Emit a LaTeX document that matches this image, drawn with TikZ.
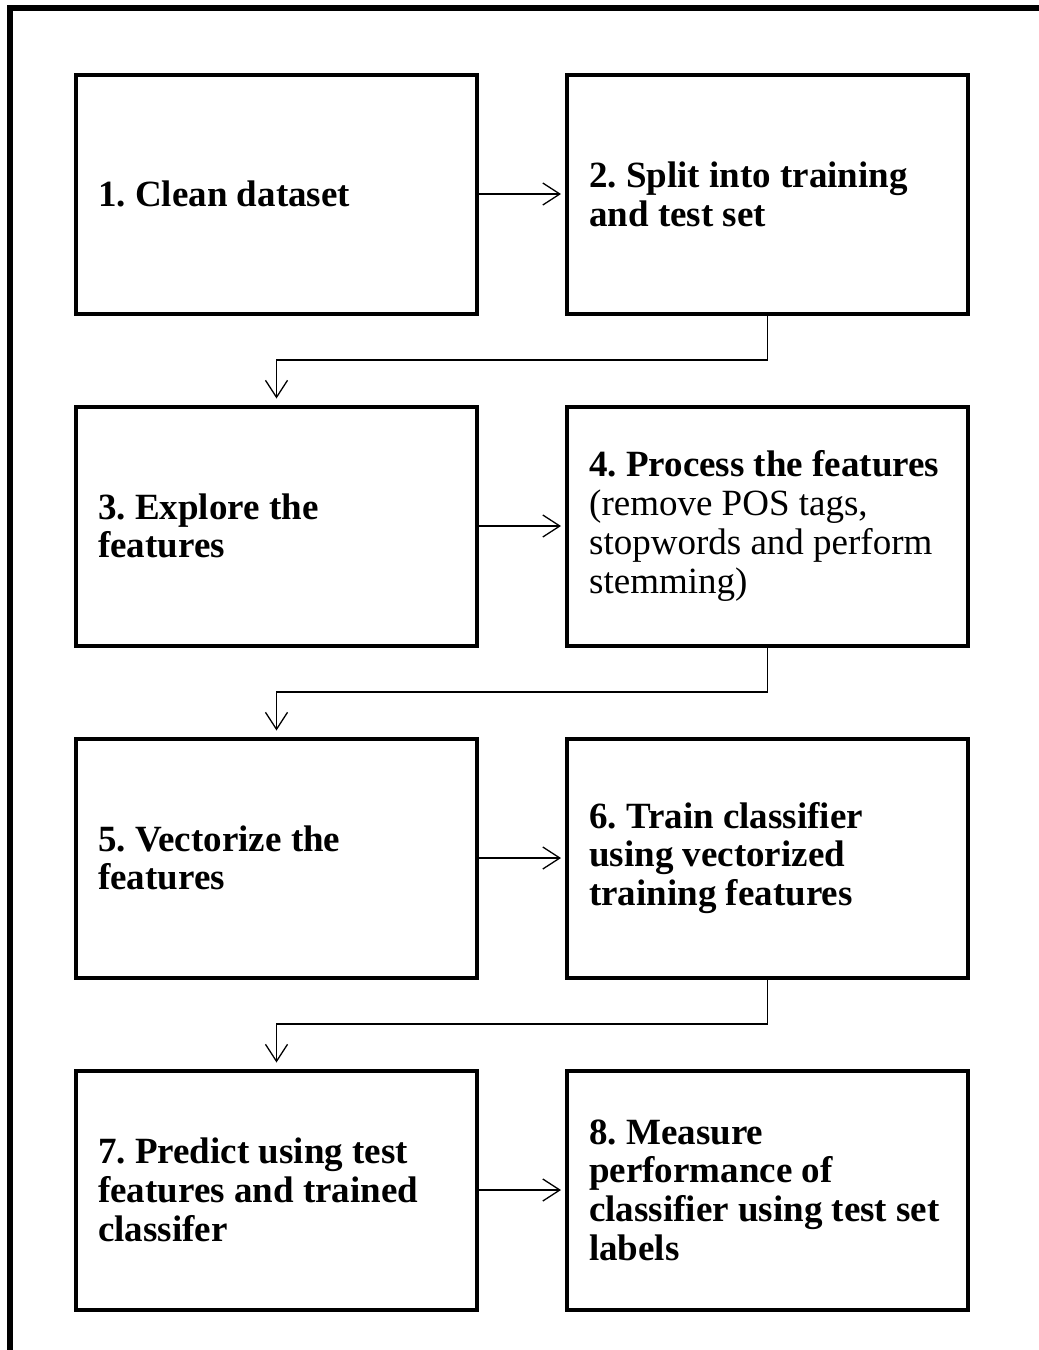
\documentclass[tikz,border=0pt]{standalone}
\usepackage{fontspec}
\setmainfont{Liberation Serif}
\usetikzlibrary{arrows.meta}
\frenchspacing
\newcommand\myboxfont{\fontsize{37}{38.7}\selectfont\bfseries\frenchspacing}
\begin{document}
\begin{tikzpicture}[x=1pt,y=-1pt,
  stepbox/.style={draw, line width=4pt, minimum width=401pt, minimum height=239pt,
    inner sep=0pt, outer sep=0pt},
  steptext/.style={anchor=west, align=left, inner sep=0pt, font=\myboxfont},
  conn/.style={line width=1.3pt, -{Straight Barb[length=17pt,width=22pt,line width=1.3pt]}},
  frame/.style={line width=6pt, line join=miter}]
\useasboundingbox (0,0) rectangle (1039,1350);
\draw[frame] (10,1350) -- (10,8) -- (1039,8);
\node[stepbox] (b1) at (276.5,194) {};
\node[stepbox] (b2) at (767.5,194) {};
\node[stepbox] (b3) at (276.5,526) {};
\node[stepbox] (b4) at (767.5,526) {};
\node[stepbox] (b5) at (276.5,858) {};
\node[stepbox] (b6) at (767.5,858) {};
\node[stepbox] (b7) at (276.5,1190) {};
\node[stepbox] (b8) at (767.5,1190) {};
\node[steptext] (t1) at ([xshift=22pt]b1.west) {1. Clean dataset};
\node[steptext] (t2) at ([xshift=22pt]b2.west) {2. Split into training\\and test set};
\node[steptext] (t3) at ([xshift=22pt]b3.west) {3. Explore the\\features};
\node[steptext] (t4) at ([xshift=22pt]b4.west) {4. Process the features\\\mdseries(remove POS tags,\\\mdseries stopwords and perform\\\mdseries stemming)};
\node[steptext] (t5) at ([xshift=22pt]b5.west) {5. Vectorize the\\features};
\node[steptext] (t6) at ([xshift=22pt]b6.west) {6. Train classifier\\using vectorized\\training features};
\node[steptext] (t7) at ([xshift=22pt]b7.west) {7. Predict using test\\features and trained\\classifer};
\node[steptext] (t8) at ([xshift=22pt]b8.west) {8. Measure\\performance of\\classifier using test set\\labels};
\draw[conn] (b1.east) -- ([xshift=-6pt]b2.west);
\draw[conn] (b3.east) -- ([xshift=-6pt]b4.west);
\draw[conn] (b5.east) -- ([xshift=-6pt]b6.west);
\draw[conn] (b7.east) -- ([xshift=-6pt]b8.west);
\draw[conn] (b2.south) -- ++(0,46.5) -| ([yshift=8pt]b3.north);
\draw[conn] (b4.south) -- ++(0,46.5) -| ([yshift=8pt]b5.north);
\draw[conn] (b6.south) -- ++(0,46.5) -| ([yshift=8pt]b7.north);
\end{tikzpicture}
\end{document}
